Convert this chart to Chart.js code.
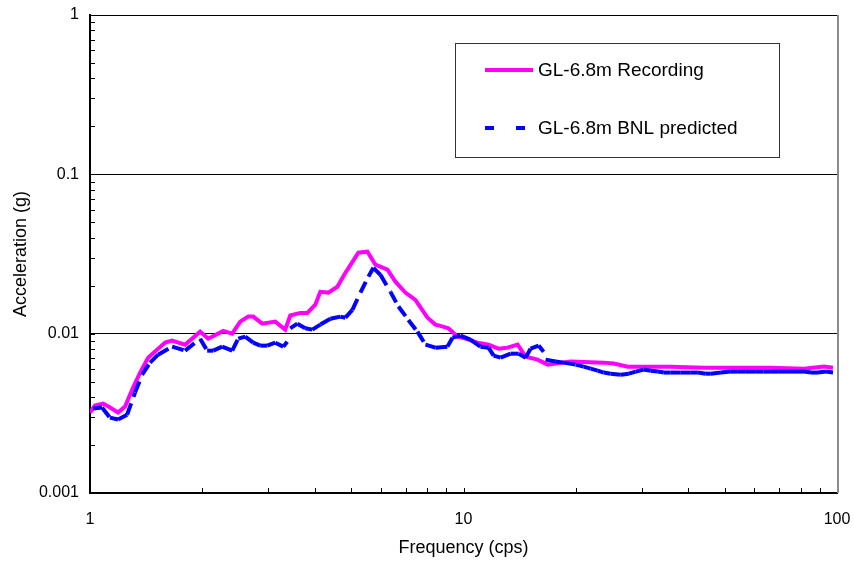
<!DOCTYPE html>
<html>
<head>
<meta charset="utf-8">
<script src="https://cdn.jsdelivr.net/npm/chart.js@4.4.1/dist/chart.umd.min.js"></script>
<style>
  html, body { margin: 0; padding: 0; background: #fff; }
</style>
</head>
<body>
<canvas id="spectrumChart" width="854" height="562"></canvas>
<script>
// Recorded response spectrum at GL-6.8m
const recFreq = [1.00, 1.031, 1.084, 1.131, 1.189, 1.241, 1.304, 1.362, 1.431, 1.512, 1.589, 1.659, 1.797, 1.972, 2.072, 2.273, 2.403, 2.525, 2.653, 2.735, 2.892, 3.133, 3.332, 3.437, 3.656, 3.818, 4.011, 4.137, 4.347, 4.595, 4.828, 5.231, 5.530, 5.811, 6.257, 6.573, 6.988, 7.434, 8.009, 8.411, 8.676, 9.116, 9.637, 10.12, 10.90, 11.67, 12.41, 13.12, 13.96, 14.67, 15.79, 16.80, 17.65, 19.36, 23.73, 25.24, 27.53, 35.89, 43.99, 66.55, 81.55, 92.28, 97.56];
const recAcc = [0.0032, 0.00354, 0.00364, 0.00344, 0.0032, 0.00349, 0.00459, 0.0057, 0.00707, 0.00794, 0.00878, 0.00904, 0.00853, 0.0103, 0.0093, 0.0104, 0.0100, 0.0119, 0.0128, 0.0128, 0.01155, 0.0119, 0.0106, 0.0130, 0.0135, 0.0135, 0.0152, 0.0183, 0.0181, 0.0197, 0.0241, 0.0322, 0.0327, 0.0271, 0.0252, 0.0212, 0.0181, 0.0163, 0.0126, 0.0114, 0.0112, 0.0108, 0.00958, 0.0093, 0.00878, 0.00853, 0.00805, 0.00817, 0.00853, 0.00717, 0.00687, 0.00639, 0.00649, 0.00668, 0.00658, 0.00649, 0.00621, 0.00621, 0.00612, 0.00612, 0.00603, 0.00621, 0.00612];

// BNL predicted spectrum
const bnlFreq = [1.00, 1.019, 1.077, 1.131, 1.189, 1.257, 1.320, 1.379, 1.448, 1.521, 1.659, 1.797, 1.972, 2.059, 2.137, 2.259, 2.403, 2.494, 2.604, 2.735, 2.856, 2.982, 3.133, 3.291, 3.374,
    3.437, 3.589, 3.771, 3.937, 4.137, 4.401, 4.681, 4.828, 5.041, 5.297, 5.565, 5.739, 5.993, 6.374, 6.696, 7.119, 7.526, 7.910, 8.411, 9.059, 9.344, 9.817, 10.44, 11.10, 11.67, 12.04, 12.57, 13.37, 14.05, 14.67, 15.12, 15.89, 16.39,
    16.59, 17.65, 18.54, 19.97, 20.98, 21.90, 22.87, 23.73, 24.78, 26.37, 27.70, 28.92, 30.38, 31.72, 33.13, 34.38, 35.89, 38.18, 40.61, 42.41, 44.54, 45.94, 48.87, 51.97, 54.28, 57.02, 60.65, 63.50, 66.55, 69.90, 73.01, 77.66, 81.55, 85.18, 88.94, 93.43, 97.56];
const bnlAcc = [0.00281, 0.00339, 0.00344, 0.00297, 0.00289, 0.0031, 0.00427, 0.00553, 0.00658, 0.00738, 0.00829, 0.00782, 0.0093, 0.00782, 0.00782, 0.00829, 0.00782, 0.0093, 0.00958, 0.00878, 0.00841, 0.00841, 0.00878, 0.00829, 0.00891,
    0.0108, 0.01155, 0.0108, 0.0106, 0.0114, 0.0124, 0.0128, 0.0126, 0.0141, 0.0181, 0.0228, 0.0259, 0.0234, 0.0183, 0.0148, 0.0122, 0.0103, 0.00853, 0.00817, 0.00829, 0.00944, 0.00972, 0.00917, 0.00829, 0.00817, 0.00728, 0.00707, 0.00749, 0.00749, 0.00707, 0.00805, 0.00841, 0.00771,
    0.00687, 0.00668, 0.00658, 0.00639, 0.00621, 0.00603, 0.00586, 0.0057, 0.00561, 0.00553, 0.00561, 0.00578, 0.00595, 0.00586, 0.00578, 0.0057, 0.0057, 0.0057, 0.0057, 0.0057, 0.00561, 0.00561, 0.0057, 0.00578, 0.00578, 0.00578, 0.00578, 0.00578, 0.00578, 0.00578, 0.00578, 0.00578, 0.00578, 0.0057, 0.0057, 0.00578, 0.0057];

const seriesNames = ['GL-6.8m Recording', 'GL-6.8m BNL predicted'];

// tick positions (minor + major) and the ones that get a label
const xTickValues = [1, 2, 3, 4, 5, 6, 7, 8, 9, 10, 20, 30, 40, 50, 60, 70, 80, 90, 100];
const yTickValues = [0.001, 0.002, 0.003, 0.004, 0.005, 0.006, 0.007, 0.008, 0.009,
                     0.01, 0.02, 0.03, 0.04, 0.05, 0.06, 0.07, 0.08, 0.09,
                     0.1, 0.2, 0.3, 0.4, 0.5, 0.6, 0.7, 0.8, 0.9, 1];
const xTickLabels = [1, 10, 100];
const yTickLabels = [0.001, 0.01, 0.1, 1];

const FONT = "'Liberation Sans', Arial, sans-serif";

function toPoints(xs, ys) {
    return xs.map((x, i) => ({ x: x, y: ys[i] }));
}

// no extra room for overhanging labels, plot area comes from layout padding only
function noScalePadding(scale) {
    scale.paddingLeft = 0;
    scale.paddingRight = 0;
    scale.paddingTop = 0;
    scale.paddingBottom = 0;
}

// the predicted curve has two spliced jumps that show as breaks
function isJump(c) {
    const dx = Math.log(c.p1.parsed.x / c.p0.parsed.x);
    const dy = Math.log(c.p1.parsed.y / c.p0.parsed.y);
    return Math.abs(dy / dx) > 8;
}

// inward tick marks, right frame line and boxed legend
const frameAndLegend = {
    id: 'frameAndLegend',
    afterDraw(chart) {
        const ctx = chart.ctx;
        const area = chart.chartArea;
        const xs = chart.scales.x;
        const ys = chart.scales.y;

        ctx.save();
        ctx.strokeStyle = '#000';
        ctx.lineWidth = 1;
        ctx.beginPath();
        yTickValues.forEach(v => {
            const py = Math.round(ys.getPixelForValue(v)) + 0.5;
            ctx.moveTo(area.left, py);
            ctx.lineTo(area.left + 5, py);
        });
        xTickValues.forEach(v => {
            const px = Math.round(xs.getPixelForValue(v)) + 0.5;
            ctx.moveTo(px, area.bottom);
            ctx.lineTo(px, area.bottom - 5);
        });
        ctx.stroke();

        // right frame
        ctx.strokeStyle = '#8c8c8c';
        ctx.lineWidth = 2;
        ctx.beginPath();
        ctx.moveTo(area.right + 1, area.top);
        ctx.lineTo(area.right + 1, area.bottom);
        ctx.stroke();

        // legend box
        ctx.fillStyle = '#fff';
        ctx.fillRect(455, 43, 324, 114);
        ctx.strokeStyle = '#333';
        ctx.lineWidth = 1;
        ctx.strokeRect(455.5, 43.5, 324, 114);

        ctx.lineCap = 'butt';
        ctx.strokeStyle = '#ff00ff';
        ctx.lineWidth = 4;
        ctx.beginPath();
        ctx.moveTo(485, 70);
        ctx.lineTo(533, 70);
        ctx.stroke();

        ctx.strokeStyle = '#0000ff';
        ctx.setLineDash([9, 22]);
        ctx.beginPath();
        ctx.moveTo(485, 128);
        ctx.lineTo(525, 128);
        ctx.stroke();
        ctx.setLineDash([]);

        ctx.fillStyle = '#000';
        ctx.font = '19px ' + FONT;
        ctx.textBaseline = 'middle';
        ctx.textAlign = 'left';
        ctx.fillText(seriesNames[0], 538, 71);
        ctx.fillText(seriesNames[1], 538, 129);
        ctx.restore();
    }
};

const ctx = document.getElementById('spectrumChart').getContext('2d');
new Chart(ctx, {
    type: 'line',
    data: {
        datasets: [
            {
                label: seriesNames[0],
                data: toPoints(recFreq, recAcc),
                borderColor: '#ff00ff',
                borderWidth: 4,
                pointRadius: 0,
                tension: 0,
                order: 1
            },
            {
                label: seriesNames[1],
                data: toPoints(bnlFreq, bnlAcc),
                borderColor: '#0000ff',
                borderWidth: 4,
                borderDash: [12, 7],
                pointRadius: 0,
                tension: 0,
                order: 0,
                // restart the dash on every segment, like the spreadsheet does
                segment: {
                    borderDashOffset: c => (c.p0DataIndex % 2 ? 0.01 : 0),
                    borderColor: c => (isJump(c) ? 'rgba(0,0,0,0)' : undefined)
                }
            }
        ]
    },
    options: {
        responsive: false,
        animation: false,
        layout: { padding: { top: 15, right: 17, left: 0, bottom: 0 } },
        plugins: {
            legend: { display: false },
            tooltip: { enabled: false }
        },
        scales: {
            x: {
                type: 'logarithmic',
                min: 1,
                max: 100,
                afterBuildTicks: scale => { scale.ticks = xTickValues.map(v => ({ value: v })); },
                afterFit: scale => { scale.height = 69; noScalePadding(scale); },
                grid: { display: false, drawTicks: false },
                border: { display: true, color: '#000', width: 2 },
                ticks: {
                    autoSkip: false,
                    maxRotation: 0,
                    padding: 17,
                    color: '#000',
                    font: { family: FONT, size: 16 },
                    callback: v => (xTickLabels.includes(v) ? String(v) : '')
                },
                title: {
                    display: true,
                    text: 'Frequency (cps)',
                    color: '#000',
                    font: { family: FONT, size: 18 },
                    padding: { top: 3, bottom: 3 }
                }
            },
            y: {
                type: 'logarithmic',
                min: 0.001,
                max: 1,
                afterBuildTicks: scale => { scale.ticks = yTickValues.map(v => ({ value: v })); },
                afterFit: scale => { scale.width = 90; noScalePadding(scale); },
                grid: {
                    drawTicks: false,
                    lineWidth: 1,
                    color: c => (yTickLabels.includes(c.tick.value) ? '#000' : 'rgba(0,0,0,0)')
                },
                border: { display: true, color: '#000', width: 2 },
                ticks: {
                    autoSkip: false,
                    padding: 11,
                    color: '#000',
                    font: { family: FONT, size: 16 },
                    callback: v => (yTickLabels.includes(v) ? String(v) : '')
                },
                title: {
                    display: true,
                    text: 'Acceleration (g)',
                    color: '#000',
                    font: { family: FONT, size: 18 },
                    padding: { top: 10, bottom: 4 }
                }
            }
        }
    },
    plugins: [frameAndLegend]
});
</script>
</body>
</html>
